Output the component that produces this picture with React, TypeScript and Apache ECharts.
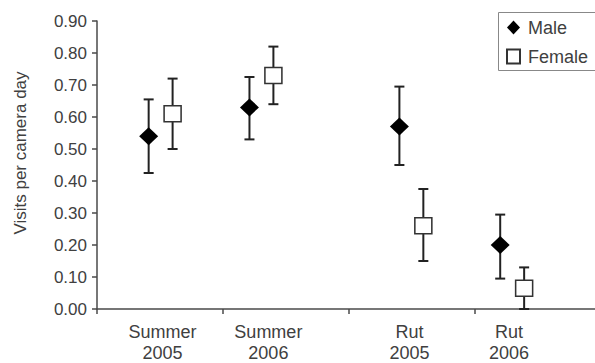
import React, { useEffect, useRef } from "react";
import * as echarts from "echarts";

const categories = ["Summer\n2005", "Summer\n2006", "Rut\n2005", "Rut\n2006"];
const labelPos = [0.52, 1.36, 2.48, 3.27];
const tickPos = [0, 1, 2, 3];
const malePos = [0.41, 1.21, 2.4, 3.2];
const femalePos = [0.6, 1.4, 2.59, 3.39];
const maleMean = [0.54, 0.63, 0.57, 0.2];
const maleLow = [0.425, 0.53, 0.45, 0.095];
const maleHigh = [0.655, 0.725, 0.695, 0.295];
const femaleMean = [0.61, 0.73, 0.26, 0.065];
const femaleLow = [0.5, 0.64, 0.15, 0.0];
const femaleHigh = [0.72, 0.82, 0.375, 0.13];
const yTitle = "Visits per camera day";

const FONT = "Liberation Sans, Arial, sans-serif";
const TEXT = "#404040";
const AXIS = "#4a4a4a";

export default function App() {
  const ref = useRef<HTMLDivElement>(null);
  useEffect(() => {
    document.body.style.margin = "0";
    const chart = echarts.init(ref.current!, null, { renderer: "svg" });
    const errData = [
      ...malePos.map((x, i) => [x, maleLow[i], maleHigh[i]]),
      ...femalePos.map((x, i) => [x, femaleLow[i], femaleHigh[i]]),
    ];
    const renderErr = (params: any, api: any) => {
      const x = api.value(0);
      const lo = api.coord([x, api.value(1)]);
      const hi = api.coord([x, api.value(2)]);
      const hw = 5;
      const style = { stroke: "#222", lineWidth: 2 };
      return {
        type: "group",
        children: [
          { type: "line", shape: { x1: lo[0], y1: lo[1], x2: hi[0], y2: hi[1] }, style },
          { type: "line", shape: { x1: lo[0] - hw, y1: lo[1], x2: lo[0] + hw, y2: lo[1] }, style },
          { type: "line", shape: { x1: hi[0] - hw, y1: hi[1], x2: hi[0] + hw, y2: hi[1] }, style },
        ],
      };
    };
    const option: any = {
      animation: false,
      backgroundColor: "#fff",
      grid: { left: 97, top: 21, bottom: 54, right: 0, outerBoundsMode: "none", containLabel: false },
      xAxis: {
        type: "value",
        min: 0,
        max: 498 / 126,
        splitLine: { show: false },
        axisLine: { show: true, onZero: false, lineStyle: { color: AXIS, width: 1.5 } },
        axisTick: { show: true, length: 5, customValues: tickPos, lineStyle: { color: AXIS, width: 1.5 } },
        axisLabel: {
          customValues: labelPos,
          formatter: (v: number) => {
            let best = 0;
            labelPos.forEach((p, i) => {
              if (Math.abs(p - v) < Math.abs(labelPos[best] - v)) best = i;
            });
            return categories[best];
          },
          fontSize: 18,
          lineHeight: 21,
          color: TEXT,
          fontFamily: FONT,
          margin: 12,
        },
      },
      yAxis: {
        type: "value",
        min: 0,
        max: 0.9,
        interval: 0.1,
        splitLine: { show: false },
        axisLine: { show: true, lineStyle: { color: AXIS, width: 1.5 } },
        axisTick: { show: true, length: 5, lineStyle: { color: AXIS, width: 1.5 } },
        axisLabel: {
          formatter: (v: number) => v.toFixed(2),
          fontSize: 17,
          color: TEXT,
          fontFamily: FONT,
          margin: 10,
        },
      },
      legend: {
        data: [
          { name: "Male", icon: "diamond" },
          { name: "Female", icon: "rect" },
        ],
        orient: "vertical",
        left: 498,
        top: 12,
        padding: [6, 0, 6, 8],
        itemGap: 10,
        itemWidth: 13,
        itemHeight: 14,
        borderWidth: 0,
        textStyle: { fontSize: 18, lineHeight: 19, color: TEXT, fontFamily: FONT, padding: [0, 0, 0, 3] },
      },
      graphic: [
        {
          type: "rect",
          shape: { x: 498.5, y: 12.5, width: 110, height: 58 },
          style: { fill: "none", stroke: "#888", lineWidth: 1 },
          silent: true,
        },
        {
          type: "text",
          x: 20,
          y: 153,
          rotation: Math.PI / 2,
          style: {
            text: yTitle,
            fontSize: 17,
            fontFamily: FONT,
            fill: TEXT,
            align: "center",
            verticalAlign: "middle",
          },
        },
      ],
      series: [
        {
          type: "custom",
          name: "err",
          renderItem: renderErr,
          data: errData,
          encode: { x: 0, y: [1, 2] },
          z: 1,
        },
        {
          type: "scatter",
          name: "Male",
          symbol: "diamond",
          symbolSize: [19, 18],
          itemStyle: { color: "#000", opacity: 1 },
          data: malePos.map((x, i) => [x, maleMean[i]]),
          z: 3,
        },
        {
          type: "scatter",
          name: "Female",
          symbol: "rect",
          symbolSize: [17, 16],
          itemStyle: { color: "#fff", borderColor: "#333", borderWidth: 1.5, opacity: 1 },
          data: femalePos.map((x, i) => [x, femaleMean[i]]),
          z: 3,
        },
      ],
    };
    chart.setOption(option);
    return () => chart.dispose();
  }, []);
  return <div ref={ref} style={{ width: 595, height: 363 }} />;
}
